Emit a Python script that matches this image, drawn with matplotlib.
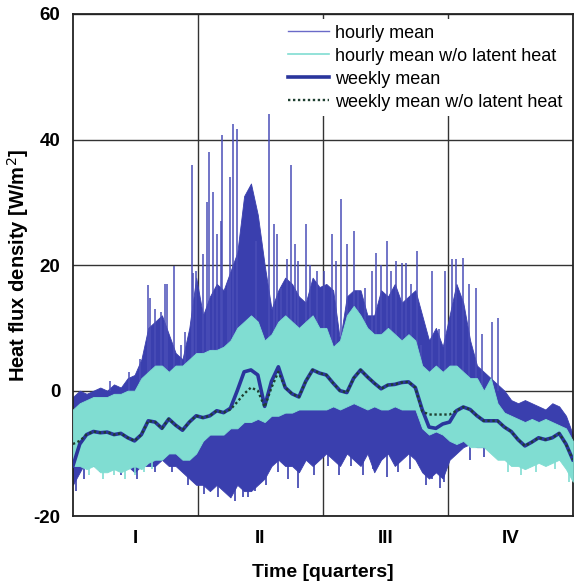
import numpy as np
import matplotlib
matplotlib.use("agg")
import matplotlib.pyplot as plt

plt.rcParams["font.family"] = ["Liberation Sans", "DejaVu Sans"]

# day of year, sampled every 5 days
days = np.arange(0, 366, 5)
days[-1] = 365

# hourly mean: dense band (upper / lower envelope)
hourly_hi = [-1, 0, -0.5, 0, 0.5, 0, 1, 0.5, 2, 2.5, 5, 10, 11, 12, 9, 6, 5, 10, 18,
             12, 15, 17, 16, 19, 22, 31, 33, 28, 20, 13, 16, 18, 17, 15, 14, 18, 16.5,
             17, 16, 8, 15, 16, 16, 12, 12, 16, 15, 17, 14, 15, 16, 12, 8, 10, 7, 12,
             17, 14, 8, 4, 3, 2, 1, 0, -1.5, -2, -1.5, -2, -2.5, -3, -2, -2.5, -4, -7]
hourly_lo = [-15, -13, -11, -12, -12, -12, -11, -12, -12, -13, -12, -12, -12, -11, -12,
             -12, -13, -14, -15, -15, -16, -15, -16, -17, -15, -16, -16, -15, -14, -12,
             -11, -12, -12, -13, -11, -12, -11, -10, -11, -12, -10, -11, -12, -10, -13,
             -11, -10, -12, -11, -10, -11, -13, -14, -13, -14, -11, -10, -9, -8.5, -9,
             -9, -9.5, -10, -10, -10, -11, -11, -11, -10, -10, -10, -10, -11, -13]

# hourly mean, single upward spikes (day, value)
spike_days = [27, 41, 49, 55, 56, 60, 64, 67, 69, 74, 79, 82, 87, 88, 90,
              95, 98, 99, 102, 105, 108, 109, 113, 115, 117, 120, 134, 143, 147, 149,
              152, 156, 159, 162, 164, 170, 173, 178,
              183, 189, 192, 196, 200, 205, 208, 213, 218, 221, 225, 229, 232, 236,
              240, 243, 247, 251, 254, 262, 267, 272,
              277, 280, 285, 289, 294, 299, 306, 310]
spike_vals = [1.5, 3, 5, 16.9, 14.7, 13, 12.5, 17, 17, 19.8, 7.3, 9.4, 36, 18.7, 19,
              21.7, 30, 38, 31.7, 25, 27, 40.8, 17.4, 34, 42.4, 41.6, 23.8, 44, 26.5, 25,
              16.3, 21, 36, 23.3, 20.6, 26.5, 20, 19,
              19, 25, 20.6, 30.6, 23.3, 25.4, 15.8, 16.3, 19, 21.9, 20, 23.8, 19, 20.6,
              20.3, 20.3, 17, 22.2, 7.3, 19, 9.9, 19,
              21, 21, 21.2, 17, 16.3, 9, 11, 11.5]

# hourly mean, single downward spikes (day, value)
dip_days = [2, 8, 20, 35, 47, 60, 72, 84, 96, 102, 106, 112, 118, 124, 128, 133, 141,
            150, 157, 164, 176, 186, 194, 203, 212, 219, 229, 237, 246, 258, 262, 268,
            271, 290, 300]
dip_vals = [-16, -14, -13, -13.5, -14, -13, -13, -15, -16.5, -15, -17, -16, -17.5, -17,
            -17, -16, -15, -13, -14, -15.5, -13.5, -12, -13.5, -12, -13.5, -12.5, -13.7,
            -13, -12.5, -15, -14, -15.5, -14.5, -11, -10.5]

# hourly mean w/o latent heat
nolat_hi = [-3, -2, -1.5, -1, -1, -1, -0.5, -0.5, 0, 0, 2, 3, 4, 4, 3, 4, 4, 5, 6, 6,
            6.5, 6.5, 7, 8, 10, 11, 12, 11, 8, 9, 11, 12, 11, 10, 11, 12, 10, 10, 7, 8,
            12, 13.5, 12, 10, 9, 9, 10, 9, 8, 9, 8, 4, 3, 4, 3, 4, 4, 3, 2, 2, 0, 2, -2,
            -3.5, -4, -4.5, -5, -4.5, -5, -4.5, -5, -5.5, -6, -8]
nolat_lo = [-12, -12, -12.5, -12, -13, -13, -12.5, -13, -12.5, -12, -12.5, -11.5, -11,
            -11, -10, -10, -11, -11, -10, -8, -7, -7, -7, -6, -6, -5, -5, -4.5, -5, -4,
            -4, -3.5, -3.5, -3, -3, -3, -3, -3, -2.5, -3, -2.5, -2, -2.5, -3, -2.5, -3,
            -3, -2.5, -3, -3, -3, -6, -7, -6.5, -7, -8, -8.5, -8, -9, -9, -9, -10, -11,
            -11, -12, -12, -12.5, -12, -11.5, -12, -11.5, -11, -12.5, -14.5]
nolat_dip_days = [12, 22, 30, 38, 45, 52, 58, 318, 327, 338, 352, 362]
nolat_dip_vals = [-13.5, -14, -13.5, -14, -13.5, -13, -12.5, -13, -13.5, -13, -12.5, -14.5]

# weekly means
weekly = [-12, -8.5, -7, -6.5, -6.7, -6.6, -7, -6.8, -7.5, -8, -7, -4.8, -5, -6, -4.5,
          -5.5, -6.3, -5, -4, -4.3, -4, -3.2, -3.5, -2.8, 0, 3, 3.3, 2.5, -2.5, 1.5, 3.8,
          0.5, -0.5, -1, 1.5, 3.3, 2.8, 2.5, 1.2, 0, -0.3, 2, 3.3, 2.2, 1.2, 0.3, 0.9,
          1, 1.3, 1.4, 0.5, -3, -5.8, -6, -5.3, -5, -3.2, -2.6, -3, -4, -4.8, -4.8, -4.8,
          -5.8, -6.5, -7.8, -8.8, -8.2, -7.5, -7.8, -7.5, -6.8, -8.5, -11]
weekly_nolat = [-8.5, -8, -7, -6.5, -6.7, -6.6, -7, -6.8, -7.5, -8, -7, -4.8, -5, -6,
                -4.5, -5.5, -6.3, -5, -4, -4.3, -4, -3.2, -3.5, -3, -1.8, -0.5, 0.5, 0,
                -2.6, 0.5, 3, 0.5, -0.5, -1, 1.5, 3.3, 2.8, 2.5, 1.2, 0, -0.3, 2, 3.3,
                2.2, 1.2, 0.3, 0.9, 1, 1.3, 1.4, 0.5, -3.3, -3.8, -3.8, -3.8, -3.8, -3.2,
                -2.6, -3, -4, -4.8, -4.8, -4.8, -5.8, -6.5, -7.8, -8.8, -8.2, -7.5, -7.8,
                -7.5, -6.8, -8.5, -11]

quarters = ["I", "II", "III", "IV"]

blue = "#3a3fae"
turq = "#80ddd2"

fig = plt.figure(figsize=(5.74, 5.82), dpi=100)
ax = fig.add_axes([0.127, 0.113, 0.871, 0.863])

ax.fill_between(days, hourly_lo, hourly_hi, color=blue, lw=0.6, zorder=2)
ax.vlines(spike_days, 0, spike_vals, color="#4a4eb8", lw=1.1, zorder=2)
ax.vlines(dip_days, -5, dip_vals, color=blue, lw=1.2, zorder=2)
ax.plot([], [], color="#6a6ac8", lw=1.0, label="hourly mean")
ax.fill_between(days, nolat_lo, nolat_hi, color=turq, lw=0.6, zorder=3)
ax.vlines(nolat_dip_days, -8, nolat_dip_vals, color=turq, lw=1.2, zorder=3)
ax.plot([], [], color=turq, lw=1.2, label="hourly mean w/o latent heat")
ax.plot(days, weekly, color="#2a359c", lw=2.6, zorder=4, label="weekly mean")
ax.plot(days, weekly_nolat, color="#1e3f30", lw=1.7, ls=(0, (1, 1.1)), zorder=5,
        label="weekly mean w/o latent heat")

ax.set_xlim(0, 365)
ax.set_ylim(-20, 60)
ax.set_xticks([91.25, 182.5, 273.75])
ax.set_xticklabels([])
ax.set_xticks([45.6, 136.9, 228.1, 319.4], minor=True)
ax.set_xticklabels(quarters, minor=True, fontsize=13.5, fontweight="bold")
ax.tick_params(axis="x", which="both", length=0, pad=10)
ax.set_yticks([-20, 0, 20, 40, 60])
ax.set_yticklabels(["-20", "0", "20", "40", "60"], fontsize=13.5, fontweight="bold")
ax.tick_params(axis="y", length=0, pad=9)
ax.grid(True, which="major", color="#333333", lw=1.0)
ax.set_axisbelow(True)
for s in ax.spines.values():
    s.set_color("#222222")
    s.set_linewidth(1.3)

ax.set_xlabel("Time [quarters]", fontsize=14, fontweight="bold", labelpad=12)
ax.set_ylabel("Heat flux density [W/m$^2$]", fontsize=14.5, fontweight="bold", labelpad=2)

leg = ax.legend(loc="upper right", fontsize=13, frameon=True, fancybox=False,
                handlelength=2.3, handletextpad=0.3, labelspacing=0.33,
                borderaxespad=0.3, borderpad=0.3)
leg.get_frame().set_edgecolor("none")
leg.get_frame().set_facecolor("white")
leg.get_frame().set_alpha(1)
leg.set_zorder(10)

fig.savefig("out.png", dpi=100)
